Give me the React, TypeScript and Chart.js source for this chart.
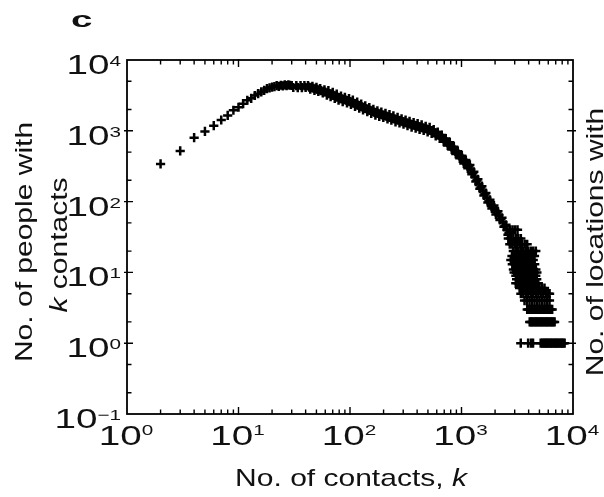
import React, { useEffect, useRef } from 'react';
import { Chart, registerables } from 'chart.js';

Chart.register(...registerables);

// Degree distribution: number of people with k contacts (log–log).
// Rising part, one point per small k.
const RISE_K = [2, 3, 4, 5, 6, 7, 8, 9, 10, 11, 12, 13, 14, 15, 16, 17, 18, 19, 20, 21, 22, 23, 24, 25, 26, 27, 28, 29];
const RISE_COUNT = [340, 520, 800, 980, 1180, 1420, 1650, 1950, 2150, 2420, 2700, 2880, 3150, 3350, 3550, 3720, 3950, 4050, 4150, 4200, 4350, 4250, 4400, 4300, 4450, 4350, 4450, 4400];

// Peak and the long decline: the upper and lower edges of the band...
const BODY_K = [
  30, 31, 33, 34, 36, 37, 39, 40, 42, 44, 46, 48, 50, 52, 54, 57, 59, 62, 64, 67, 70, 73, 76, 79, 83, 86, 90, 94, 98,
  102, 106, 111, 116, 121, 126, 131, 137, 143, 149, 155, 162, 169, 176, 183, 191, 199, 208, 217, 226, 235, 245, 256,
  267, 278, 290, 302, 315, 328, 342, 357, 372, 388, 404, 421, 439, 458, 477, 497, 518, 540, 563, 587, 612, 638, 665,
  693, 722, 753, 785, 818, 853, 889, 926, 966, 1006, 1049, 1093, 1140, 1188, 1238, 1290, 1345, 1402, 1461, 1523, 1588,
  1655, 1725, 1798, 1874, 1953, 2036, 2122, 2212, 2306, 2403, 2505, 2611, 2722,
];
const BODY_COUNT = [
  4360, 4090, 4350, 4080, 4360, 4080, 4350, 4090, 4340,
  3880, 4260, 3720, 4100, 3590, 3960, 3430, 3790,
  3200, 3700, 3040, 3480, 2870, 3290, 2720, 3100, 2580, 2970, 2470, 2840,
  2360, 2710, 2220, 2540, 2090, 2390, 1980, 2260, 1860, 2130, 1760, 2010, 1670, 1920, 1600, 1840, 1540,
  1760, 1470, 1690, 1410, 1620, 1340, 1550, 1290, 1480, 1240, 1420, 1180, 1360, 1130, 1310, 1090, 1260, 1050, 1210, 1010, 1160, 968,
  1120, 916, 1040, 847, 959, 783, 872, 700, 776, 620, 688, 544, 597, 472, 516, 409, 445,
  345, 386, 295, 330, 244, 263, 192, 207, 152, 165, 122, 132, 97, 106, 80, 88, 66, 73, 55, 59, 44, 47, 34, 37,
];

// ...and the points along its middle.
const CORE_K = [
  43, 45, 47, 49, 51, 53, 55, 58, 60, 63, 65, 68, 71, 74, 77, 81, 84, 88, 92, 96,
  100, 104, 108, 113, 118, 123, 128, 134, 140, 146, 152, 158, 165, 172, 179, 187, 195, 203, 212, 221,
  230, 240, 250, 261, 272, 284, 296, 308, 321, 335, 349, 364, 380, 396, 412, 430, 448, 467, 487, 507,
  529, 551, 575, 599, 625, 651, 679, 707, 737, 769, 801, 835, 871, 907, 946, 986, 1027, 1071, 1116, 1164,
  1213, 1264, 1317, 1373, 1431, 1492, 1555, 1621, 1690, 1761, 1836, 1913, 1994, 2079, 2167, 2259, 2354, 2454, 2558, 2666,
];
const CORE_COUNT = [
  4150, 4060, 3990, 3900, 3840, 3770, 3690, 3600, 3530, 3440, 3350, 3250, 3160, 3070, 2990, 2900, 2830, 2770, 2710, 2650,
  2590, 2530, 2450, 2380, 2300, 2240, 2180, 2120, 2050, 1990, 1940, 1880, 1830, 1790, 1760, 1720, 1680, 1650, 1610, 1570,
  1540, 1510, 1475, 1440, 1410, 1380, 1350, 1325, 1295, 1270, 1245, 1220, 1195, 1170, 1145, 1125, 1100, 1080, 1060, 1040,
  1010, 975, 935, 900, 865, 825, 780, 735, 695, 655, 610, 570, 530, 495, 460, 425, 395, 365, 338, 312,
  284, 253, 225, 199, 177, 158, 142, 127, 113, 101, 92, 84, 76, 70, 64, 57, 51, 45, 40, 36,
];

// High-k tail: small integer counts, each with the contact numbers that reach it.
const TAIL_COUNTS = [40, 30, 25, 20, 17, 15, 13, 11, 10, 9, 8, 7, 6, 5, 4, 3, 2, 1];
const TAIL_K = [
  [2730, 2870, 3020, 3180],
  [2630, 2770, 2915, 3070, 3230, 3405],
  [2710, 2850, 3000, 3160, 3330, 3500, 3690, 3880],
  [2915, 3070, 3230, 3405, 3580, 3775, 3970, 4185, 4400, 4640],
  [2835, 2985, 3145, 3315, 3485, 3675, 3865, 4075, 4285, 4515],
  [2770, 2915, 3070, 3230, 3405, 3580, 3775, 3970, 4185, 4400],
  [2855, 3005, 3165, 3335, 3505, 3695, 3885, 4095, 4305, 4535],
  [2920, 3075, 3235, 3410, 3585, 3780, 3975, 4190, 4405, 4645],
  [2965, 3125, 3295, 3465, 3655, 3845, 4055, 4265, 4495, 4745],
  [3072, 3232, 3402, 3577, 3772, 3967, 4182, 4397, 4637],
  [3120, 3290, 3460, 3650, 3840, 4050, 4260, 4490, 4730],
  [3068, 3228, 3408, 3583, 3778, 3973, 4188, 4403, 4643, 4885],
  [3320, 3495, 3680, 3870, 4080, 4290, 4520, 4760, 5010, 5270, 5550],
  [3407, 3582, 3777, 3972, 4187, 4402, 4642, 4887, 5140, 5415, 5705, 6000, 6165],
  [3675, 3865, 4075, 4285, 4515, 4755, 5005, 5275, 5555, 5845, 6155],
  [3885, 3990, 4095, 4200, 4305, 4420, 4535, 4655, 4775, 4900, 5025, 5160, 5295, 5435, 5575, 5720, 5865, 6020, 6175, 6340, 6505],
  [4090, 4185, 4300, 4405, 4530, 4645, 4770, 4890, 5020, 5145, 5290, 5420, 5570, 5710, 5860, 6005, 6170, 6325, 6500, 6665, 6840],
  [3400, 3960, 4200, 4380, 5130, 5300, 5440, 5580, 5725, 5870, 6020, 6180, 6340, 6510, 6680, 6850, 7020, 7200, 7390, 7580, 7780, 7980, 8190, 8410],
];

// Axis decades (powers of ten) and minor tick multipliers.
const X_DECADES = [0, 1, 2, 3, 4];
const Y_DECADES = [-1, 0, 1, 2, 3, 4];
const X_MINOR = [2, 3, 4, 5, 6, 7, 8, 9];
const Y_MINOR = [2, 5];

const X_TITLE = 'No. of contacts, ';
const K_SYMBOL = 'k';
const Y_TITLE_1 = 'No. of people with';
const Y_TITLE_2 = ' contacts';
const RIGHT_TITLE = 'No. of locations with';
const PANEL = 'c';

const FACE = '"Liberation Sans", Arial, Helvetica, sans-serif';
const INK = '#111';

type Part = { text: string; font: string };

function partsWidth(ctx: CanvasRenderingContext2D, parts: Part[], sx: number) {
  let w = 0;
  for (const p of parts) {
    ctx.font = p.font;
    w += ctx.measureText(p.text).width * sx;
  }
  return w;
}

// Draws a run of text pieces, horizontally widened by sx, starting at (x, y) baseline.
function drawParts(ctx: CanvasRenderingContext2D, parts: Part[], x: number, y: number, sx: number) {
  let cx = x;
  for (const p of parts) {
    ctx.font = p.font;
    const w = ctx.measureText(p.text).width * sx;
    ctx.save();
    ctx.translate(cx, y);
    ctx.scale(sx, 1);
    ctx.textAlign = 'left';
    ctx.textBaseline = 'alphabetic';
    ctx.fillText(p.text, 0, 0);
    ctx.restore();
    cx += w;
  }
}

const supText = (e: number) => (e < 0 ? '\u2212' + String(-e) : String(e));

const frameAxes = {
  id: 'frameAxes',
  afterDraw(chart: any) {
    const { ctx, chartArea: a, scales } = chart;
    const xs = scales.x;
    const ys = scales.y;
    ctx.save();
    ctx.strokeStyle = '#000';
    ctx.fillStyle = INK;

    // frame
    ctx.lineWidth = 1.8;
    ctx.strokeRect(a.left, a.top, a.right - a.left, a.bottom - a.top);

    // ticks, drawn inward on all four sides
    ctx.lineWidth = 1.4;
    ctx.beginPath();
    const xLast = X_DECADES[X_DECADES.length - 1];
    X_DECADES.forEach((d) => {
      const base = Math.pow(10, d);
      const px = xs.getPixelForValue(base);
      if (d !== X_DECADES[0] && d !== xLast) {
        ctx.moveTo(px, a.bottom + 1); ctx.lineTo(px, a.bottom - 7);
        ctx.moveTo(px, a.top - 1); ctx.lineTo(px, a.top + 7);
      }
      if (d !== xLast) {
        X_MINOR.forEach((m) => {
          const mx = xs.getPixelForValue(base * m);
          ctx.moveTo(mx, a.bottom); ctx.lineTo(mx, a.bottom - 4.5);
          ctx.moveTo(mx, a.top); ctx.lineTo(mx, a.top + 4.5);
        });
      }
    });
    const yLast = Y_DECADES[Y_DECADES.length - 1];
    Y_DECADES.forEach((d) => {
      const base = Math.pow(10, d);
      const py = ys.getPixelForValue(base);
      if (d !== Y_DECADES[0] && d !== yLast) {
        ctx.moveTo(a.left - 3, py); ctx.lineTo(a.left + 6, py);
        ctx.moveTo(a.right + 3, py); ctx.lineTo(a.right - 6, py);
      }
      if (d !== yLast) {
        Y_MINOR.forEach((m) => {
          const my = ys.getPixelForValue(base * m);
          ctx.moveTo(a.left, my); ctx.lineTo(a.left + 4.5, my);
          ctx.moveTo(a.right, my); ctx.lineTo(a.right - 4.5, my);
        });
      }
    });
    ctx.stroke();

    // tick labels: 10 with a raised exponent
    const mainFont = `28px ${FACE}`;
    const supFont = `15px ${FACE}`;
    const tsx = 1.38;
    X_DECADES.forEach((d) => {
      const px = xs.getPixelForValue(Math.pow(10, d));
      const parts = [{ text: '10', font: mainFont }];
      const wMain = partsWidth(ctx, parts, tsx);
      const wSup = partsWidth(ctx, [{ text: supText(d), font: supFont }], tsx);
      const x0 = px - (wMain + wSup) / 2 - 1;
      drawParts(ctx, parts, x0, a.bottom + 31, tsx);
      drawParts(ctx, [{ text: supText(d), font: supFont }], x0 + wMain, a.bottom + 21, tsx);
    });
    Y_DECADES.forEach((d) => {
      const py = ys.getPixelForValue(Math.pow(10, d));
      const wMain = partsWidth(ctx, [{ text: '10', font: mainFont }], tsx);
      const wSup = partsWidth(ctx, [{ text: supText(d), font: supFont }], tsx);
      const right = a.left - 6;
      drawParts(ctx, [{ text: '10', font: mainFont }], right - wSup - wMain, py + 14, tsx);
      drawParts(ctx, [{ text: supText(d), font: supFont }], right - wSup, py + 6, tsx);
    });

    // axis titles
    const tFont = `24px ${FACE}`;
    const iFont = `italic 24px ${FACE}`;
    const ttx = 1.25;
    const xParts = [{ text: X_TITLE, font: tFont }, { text: K_SYMBOL, font: iFont }];
    const xw = partsWidth(ctx, xParts, ttx);
    drawParts(ctx, xParts, (a.left + a.right) / 2 + 1 - xw / 2, a.bottom + 72, ttx);

    const vertical = (parts: Part[], bx: number, cy: number) => {
      const w = partsWidth(ctx, parts, ttx);
      ctx.save();
      ctx.translate(bx, cy);
      ctx.rotate(-Math.PI / 2);
      drawParts(ctx, parts, -w / 2, 0, ttx);
      ctx.restore();
    };
    vertical([{ text: Y_TITLE_1, font: tFont }], 32, 242);
    vertical([{ text: K_SYMBOL, font: iFont }, { text: Y_TITLE_2, font: tFont }], 67, 245);
    vertical([{ text: RIGHT_TITLE, font: tFont }], 603, 242);

    // panel letter
    drawParts(ctx, [{ text: PANEL, font: `bold 22px ${FACE}` }], 71, 27, 1.75);
    ctx.restore();
  },
};

export default function App() {
  const canvasRef = useRef<HTMLCanvasElement | null>(null);

  useEffect(() => {
    const canvas = canvasRef.current;
    if (!canvas) return;
    const points: { x: number; y: number }[] = [];
    RISE_K.forEach((k, i) => points.push({ x: k, y: RISE_COUNT[i] }));
    BODY_K.forEach((k, i) => points.push({ x: k, y: BODY_COUNT[i] }));
    CORE_K.forEach((k, i) => points.push({ x: k, y: CORE_COUNT[i] }));
    TAIL_COUNTS.forEach((c, r) => TAIL_K[r].forEach((k) => points.push({ x: k, y: c })));

    const chart = new Chart(canvas, {
      type: 'scatter',
      data: {
        datasets: [
          {
            data: points,
            pointStyle: 'cross',
            pointRadius: 4.6,
            pointBorderWidth: 2.5,
            pointBorderColor: '#000',
            pointBackgroundColor: '#000',
            borderColor: '#000',
            showLine: false,
          },
        ],
      },
      options: {
        responsive: false,
        animation: false,
        devicePixelRatio: 1,
        events: [],
        layout: { padding: { left: 127, right: 31, top: 60, bottom: 83 } },
        plugins: { legend: { display: false }, tooltip: { enabled: false } },
        scales: {
          x: { type: 'logarithmic', min: 1, max: 10000, display: false },
          y: { type: 'logarithmic', min: 0.1, max: 10000, display: false },
        },
      },
      plugins: [frameAxes],
    });
    return () => chart.destroy();
  }, []);

  return (
    <div style={{ position: 'absolute', left: 0, top: 0, width: 604, height: 497, background: '#fff' }}>
      <canvas ref={canvasRef} width={604} height={497} style={{ display: 'block' }} />
    </div>
  );
}
